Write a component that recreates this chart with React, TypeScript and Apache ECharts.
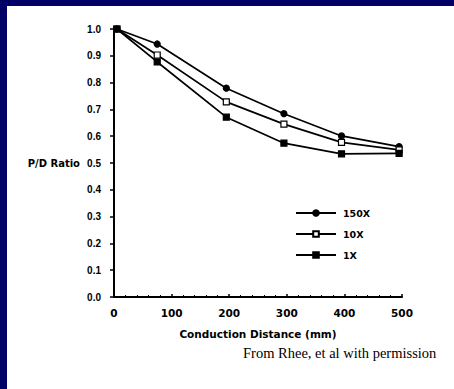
import React, { useEffect, useRef } from "react";
import * as echarts from "echarts";

const distances = [5, 75, 195, 295, 395, 495];
const seriesNames = ["150X", "10X", "1X"];
const values150X = [1.0, 0.944, 0.779, 0.684, 0.601, 0.561];
const values10X = [1.0, 0.903, 0.728, 0.645, 0.577, 0.549];
const values1X = [1.0, 0.877, 0.671, 0.574, 0.534, 0.536];
const xTitle = "Conduction Distance (mm)";
const yTitle = "P/D Ratio";
const credit = "From Rhee, et al with permission";

const font = "'Liberation Sans', Arial, sans-serif";
const wide = "'DejaVu Sans', Verdana, sans-serif";

export default function App() {
  const ref = useRef<HTMLDivElement>(null);
  useEffect(() => {
    if (!ref.current) return;
    const chart = echarts.init(ref.current, null, { renderer: "svg" });
    const mk = (vals: number[]) => distances.map((d, i) => [d, vals[i]]);
    const base = {
      type: "line" as const,
      lineStyle: { color: "#000", width: 1.7 },
      itemStyle: { color: "#000", borderColor: "#000", borderWidth: 1.2 },
      symbolSize: 6,
      z: 3,
    };
    chart.setOption({
      animation: false,
      backgroundColor: "#000066",
      graphic: [
        { type: "rect", z: -10, shape: { x: 7, y: 6, width: 447, height: 383 }, style: { fill: "#fff" } },
        {
          type: "text",
          x: 243,
          y: 345,
          style: { text: credit, font: "14.5px 'Liberation Serif', 'Times New Roman', serif", fill: "#000" },
        },
      ],
      grid: { left: 114, right: 52, top: 29, bottom: 92, containLabel: false },
      legend: {
        orient: "vertical",
        left: 290,
        top: 203,
        itemWidth: 40,
        itemHeight: 7,
        itemGap: 11,
        data: seriesNames,
        textStyle: { fontFamily: wide, fontWeight: "bold", fontSize: 9.5, color: "#000", padding: [0, 0, 0, 2] },
      },
      xAxis: {
        type: "value",
        min: 0,
        max: 500,
        interval: 100,
        name: xTitle,
        nameLocation: "middle",
        nameGap: 31,
        nameTextStyle: { fontFamily: wide, fontWeight: "bold", fontSize: 10.5, color: "#000" },
        axisLine: { lineStyle: { color: "#000", width: 2 } },
        axisTick: { inside: true, length: 3, lineStyle: { color: "#000", width: 1.5 } },
        minorTick: { show: true, splitNumber: 5, length: 2, lineStyle: { color: "#000", width: 1 } },
        splitLine: { show: false },
        axisLabel: { fontFamily: wide, fontWeight: "bold", fontSize: 10.5, color: "#000", margin: 10 },
      },
      yAxis: {
        type: "value",
        min: 0,
        max: 1,
        interval: 0.1,
        name: yTitle,
        nameLocation: "middle",
        nameRotate: 0,
        nameGap: 34,
        nameTextStyle: { fontFamily: wide, fontWeight: "bold", fontSize: 10, color: "#000", align: "right" },
        axisLine: { show: true, lineStyle: { color: "#000", width: 2 } },
        axisTick: { show: true, length: 4, lineStyle: { color: "#000", width: 1.5 } },
        splitLine: { show: false },
        axisLabel: {
          fontFamily: font,
          fontWeight: "bold",
          fontSize: 10,
          color: "#000",
          margin: 13,
          formatter: (v: number) => v.toFixed(1),
        },
      },
      series: [
        { ...base, name: seriesNames[0], symbol: "circle", data: mk(values150X) },
        {
          ...base,
          name: seriesNames[1],
          symbol: "rect",
          itemStyle: { color: "#fff", borderColor: "#000", borderWidth: 1.2 },
          data: mk(values10X),
        },
        { ...base, name: seriesNames[2], symbol: "rect", data: mk(values1X) },
      ],
    });
    return () => chart.dispose();
  }, []);
  return <div ref={ref} style={{ position: "fixed", left: 0, top: 0, width: 454, height: 389 }} />;
}
